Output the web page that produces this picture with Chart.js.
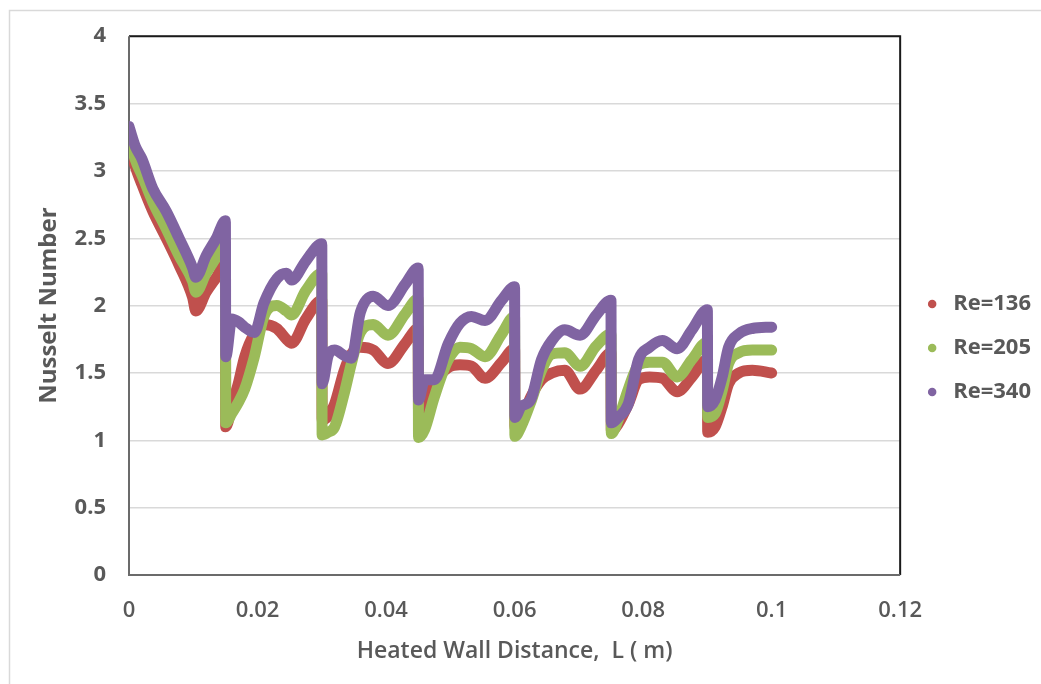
<!DOCTYPE html>
<html>
<head>
<meta charset="utf-8">
<script src="https://cdn.jsdelivr.net/npm/chart.js@4.4.1/dist/chart.umd.min.js"></script>
<style>
  html, body { margin: 0; padding: 0; background: #fff; }
  #wrap { width: 1041px; height: 684px; position: relative; }
</style>
</head>
<body>
<div id="wrap"><canvas id="nusselt" width="1041" height="684"></canvas></div>
<script>
// Heated wall distance L (m); the point just after each rib (0.015 m pitch) is the bottom of the sudden drop
const distance = [
  0, 0.0005, 0.001, 0.002, 0.0037, 0.0058, 0.0078, 0.0099, 0.0104, 0.012, 0.0136, 0.015,
  0.01505,
  0.016, 0.017, 0.018, 0.0195, 0.021, 0.023, 0.0245, 0.0253, 0.0275, 0.030,
  0.03005,
  0.031, 0.032, 0.0335, 0.0346, 0.036, 0.038, 0.0403, 0.043, 0.045,
  0.04505,
  0.046, 0.0475, 0.0497, 0.0515, 0.0533, 0.0554, 0.058, 0.060,
  0.06005,
  0.061, 0.0625, 0.0642, 0.0658, 0.0678, 0.0702, 0.0727, 0.075,
  0.07505,
  0.0761, 0.0777, 0.0793, 0.081, 0.083, 0.0853, 0.0876, 0.090,
  0.09005,
  0.0912, 0.0923, 0.0933, 0.0949, 0.097, 0.100
];

// Local Nusselt number for each Reynolds number
const nuRe136 = [
  3.28, 3.12, 3.03, 2.90, 2.70, 2.50, 2.30, 2.06, 1.96, 2.10, 2.21, 2.31,
  1.10,
  1.25, 1.42, 1.62, 1.79, 1.86, 1.83, 1.75, 1.72, 1.90, 2.04,
  1.15,
  1.18, 1.27, 1.52, 1.64, 1.69, 1.67, 1.57, 1.72, 1.83,
  1.22,
  1.25, 1.42, 1.54, 1.56, 1.55, 1.46, 1.58, 1.68,
  1.10,
  1.15, 1.32, 1.45, 1.50, 1.52, 1.38, 1.52, 1.65,
  1.07,
  1.12, 1.27, 1.45, 1.47, 1.46, 1.36, 1.47, 1.60,
  1.06,
  1.10, 1.25, 1.42, 1.50, 1.52, 1.50
];
const nuRe205 = [
  3.30, 3.17, 3.08, 2.97, 2.77, 2.57, 2.37, 2.18, 2.10, 2.24, 2.36, 2.47,
  1.13,
  1.20, 1.28, 1.38, 1.62, 1.92, 2.00, 1.96, 1.93, 2.11, 2.24,
  1.04,
  1.06, 1.10, 1.35, 1.57, 1.80, 1.86, 1.78, 1.94, 2.05,
  1.02,
  1.08, 1.32, 1.60, 1.69, 1.68, 1.62, 1.79, 1.92,
  1.03,
  1.10, 1.28, 1.52, 1.64, 1.65, 1.55, 1.70, 1.79,
  1.05,
  1.15, 1.38, 1.56, 1.58, 1.58, 1.47, 1.60, 1.73,
  1.17,
  1.20, 1.37, 1.57, 1.65, 1.67, 1.67
];
const nuRe340 = [
  3.33, 3.25, 3.18, 3.09, 2.87, 2.70, 2.50, 2.28, 2.21, 2.37, 2.50, 2.63,
  1.62,
  1.90, 1.88, 1.84, 1.80, 2.02, 2.20, 2.24, 2.19, 2.33, 2.46,
  1.42,
  1.63, 1.67, 1.63, 1.61, 1.95, 2.07, 2.00, 2.16, 2.28,
  1.30,
  1.45, 1.45, 1.72, 1.87, 1.92, 1.89, 2.04, 2.14,
  1.17,
  1.25, 1.30, 1.60, 1.74, 1.82, 1.78, 1.93, 2.04,
  1.13,
  1.17, 1.27, 1.60, 1.69, 1.74, 1.68, 1.82, 1.97,
  1.25,
  1.30, 1.47, 1.69, 1.79, 1.83, 1.84
];

const seriesLabels = ['Re=136', 'Re=205', 'Re=340'];
const seriesColors = ['#C0504D', '#9BBB59', '#8064A2'];

const xTicks = [0, 0.02, 0.04, 0.06, 0.08, 0.1, 0.12];
const xTickLabels = ['0', '0.02', '0.04', '0.06', '0.08', '0.1', '0.12'];
const yTicks = [0, 0.5, 1, 1.5, 2, 2.5, 3, 3.5, 4];
const yTickLabels = ['0', '0.5', '1', '1.5', '2', '2.5', '3', '3.5', '4'];

const textGray = '#595959';
const FONT = "'Open Sans', 'DejaVu Sans', sans-serif";

function toPoints(ys) {
  return distance.map((x, i) => ({ x: x, y: ys[i] }));
}

const seriesValues = [nuRe136, nuRe205, nuRe340];
const datasets = seriesValues.map((ys, i) => ({
  label: seriesLabels[i],
  data: toPoints(ys),
  borderColor: seriesColors[i],
  backgroundColor: seriesColors[i],
  borderWidth: 11,
  borderCapStyle: 'round',
  borderJoinStyle: 'round',
  pointRadius: 0,
  pointHoverRadius: 0,
  cubicInterpolationMode: 'monotone',
  fill: false,
  order: seriesValues.length - i   // higher Re drawn on top
}));

// White page, thin light outer frame, and the plot-area border
const framePlugin = {
  id: 'frames',
  beforeDraw(chart) {
    const ctx = chart.ctx;
    ctx.save();
    ctx.fillStyle = '#ffffff';
    ctx.fillRect(0, 0, chart.width, chart.height);
    ctx.strokeStyle = '#d9d9d9';
    ctx.lineWidth = 1.5;
    ctx.beginPath();
    ctx.moveTo(9.5, chart.height + 2);
    ctx.lineTo(9.5, 10.5);
    ctx.lineTo(chart.width + 2, 10.5);
    ctx.stroke();
    ctx.restore();
  },
  beforeDatasetsDraw(chart) {
    const { left, right, top, bottom } = chart.chartArea;
    const ctx = chart.ctx;
    ctx.save();
    ctx.lineWidth = 2;
    ctx.strokeStyle = '#1a1a1a';
    ctx.beginPath();
    ctx.moveTo(left, top);
    ctx.lineTo(right, top);
    ctx.lineTo(right, bottom);
    ctx.stroke();
    ctx.strokeStyle = '#6b6b6b';
    ctx.beginPath();
    ctx.moveTo(right, bottom);
    ctx.lineTo(left, bottom);
    ctx.lineTo(left, top);
    ctx.stroke();
    ctx.restore();
  }
};

new Chart(document.getElementById('nusselt'), {
  type: 'line',
  data: { datasets: datasets },
  plugins: [framePlugin],
  options: {
    responsive: false,
    devicePixelRatio: 1,
    animation: false,
    events: [],
    layout: { padding: { left: 10, right: 0, top: 23, bottom: 11 } },
    plugins: {
      tooltip: { enabled: false },
      legend: {
        position: 'right',
        labels: {
          usePointStyle: true,
          boxWidth: 20,
          boxHeight: 6,
          padding: 22,
          color: textGray,
          font: { family: FONT, size: 22, weight: 'bold' },
          generateLabels(chart) {
            const items = Chart.defaults.plugins.legend.labels.generateLabels(chart);
            items.forEach(it => {
              it.lineWidth = 0;
              it.strokeStyle = it.fillStyle;
              it.pointStyle = 'circle';
            });
            return items.sort((a, b) => a.datasetIndex - b.datasetIndex);
          }
        }
      }
    },
    scales: {
      x: {
        type: 'linear',
        min: 0,
        max: 0.12,
        afterFit(s) { s.height = 98; },
        afterBuildTicks(s) { s.ticks = xTicks.map(v => ({ value: v })); },
        grid: { display: false, drawTicks: false },
        border: { display: false },
        ticks: {
          padding: 23,
          color: textGray,
          font: { family: FONT, size: 22, weight: '600' },
          maxRotation: 0,
          callback: (v, i) => xTickLabels[i]
        },
        title: {
          display: true,
          text: 'Heated Wall Distance,  L ( m)',
          color: textGray,
          font: { family: FONT, size: 23, weight: '600' },
          padding: { top: 0, bottom: 8 }
        }
      },
      y: {
        type: 'linear',
        min: 0,
        max: 4,
        afterFit(s) { s.width = 119; },
        afterBuildTicks(s) { s.ticks = yTicks.map(v => ({ value: v })); },
        grid: { color: '#d9d9d9', lineWidth: 1.5, drawTicks: false },
        border: { display: false },
        ticks: {
          padding: 23,
          color: textGray,
          font: { family: FONT, size: 22, weight: 'bold' },
          callback: (v, i) => yTickLabels[i]
        },
        title: {
          display: true,
          text: 'Nusselt Number',
          color: textGray,
          font: { family: FONT, size: 24, weight: 'bold' },
          padding: { top: 25, bottom: 0 }
        }
      }
    }
  }
});
</script>
</body>
</html>
